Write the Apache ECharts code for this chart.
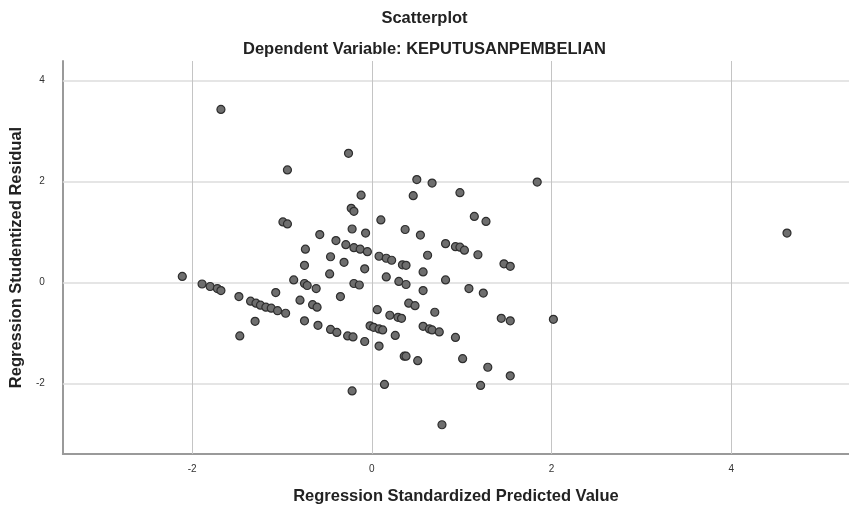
<!DOCTYPE html>
<html>
<head>
<meta charset="utf-8">
<script src="https://cdn.jsdelivr.net/npm/echarts@6/dist/echarts.min.js"></script>
<style>
html,body{margin:0;padding:0;background:#fff;}
#chart{width:849px;height:510px;}
</style>
</head>
<body>
<div id="chart"></div>
<script>
// Regression Standardized Predicted Value (x) vs Regression Studentized Residual (y)
const predicted = [
 -1.68,-0.94,-0.99,-0.94,-0.58,-0.74,-0.26,0.50,0.67,0.46,
 0.98,1.84,-0.12,-0.23,-0.20,0.10,1.14,1.27,-0.22,-0.07,
 0.37,0.54,-0.40,-0.29,-0.20,-0.13,-0.05,0.82,0.93,0.98,
 1.03,1.18,0.62,-0.46,-0.31,-0.75,-0.08,-0.47,-0.87,-0.75,
 -0.72,-0.62,-0.20,-0.14,-2.11,-1.89,-1.80,-1.72,-1.68,-1.48,
 -1.07,-0.35,0.08,0.16,0.22,0.34,0.38,1.47,1.54,0.16,
 0.57,0.30,0.38,0.82,0.57,1.08,1.24,-0.80,-0.66,-0.61,
 0.06,0.41,0.48,0.20,0.29,0.33,0.70,1.44,1.54,2.02,
 -0.75,-0.60,-0.46,-0.39,-0.27,-0.21,-0.08,-0.02,0.02,0.08,
 0.12,0.08,0.26,0.57,0.64,0.67,0.75,0.93,0.36,0.38,
 0.51,1.01,1.29,1.54,0.14,1.21,-0.22,0.78,-1.35,-1.29,
 -1.24,-1.18,-1.12,-1.05,-0.96,-1.30,-1.47,4.62
];
const residual = [
 3.43,2.23,1.20,1.16,0.95,0.66,2.56,2.04,1.97,1.72,
 1.78,1.99,1.73,1.47,1.41,1.24,1.31,1.21,1.06,0.98,
 1.05,0.94,0.83,0.75,0.69,0.66,0.61,0.77,0.71,0.70,
 0.64,0.55,0.54,0.51,0.40,0.34,0.27,0.17,0.05,-0.02,
 -0.06,-0.12,-0.02,-0.05,0.12,-0.03,-0.08,-0.12,-0.16,-0.28,
 -0.20,-0.28,0.52,0.48,0.44,0.35,0.34,0.37,0.32,0.11,
 0.21,0.02,-0.04,0.05,-0.16,-0.12,-0.21,-0.35,-0.44,-0.49,
 -0.54,-0.41,-0.46,-0.65,-0.69,-0.71,-0.59,-0.71,-0.76,-0.73,
 -0.76,-0.85,-0.93,-0.99,-1.06,-1.08,-1.17,-0.86,-0.89,-0.92,
 -0.94,-1.26,-1.05,-0.87,-0.92,-0.94,-0.98,-1.09,-1.46,-1.46,
 -1.55,-1.51,-1.68,-1.85,-2.02,-2.04,-2.15,-2.82,-0.37,-0.41,
 -0.45,-0.49,-0.51,-0.56,-0.61,-0.77,-1.06,0.98
];
const xTicks = [-2, 0, 2, 4];
const yTicks = [-2, 0, 2, 4];
const xRange = [-3.44, 5.31];
const yRange = [-3.40, 4.39];

const points = predicted.map((x, i) => [x, residual[i]]);

const chart = echarts.init(document.getElementById('chart'), null, {renderer: 'canvas'});
const fontFam = '"Liberation Sans", Arial, sans-serif';
chart.setOption({
  animation: false,
  backgroundColor: '#ffffff',
  title: [
    {text: 'Scatterplot', left: 'center', top: 5,
     textStyle: {fontFamily: fontFam, fontSize: 16.5, fontWeight: 'bold', color: '#222'}},
    {text: 'Dependent Variable: KEPUTUSANPEMBELIAN', left: 'center', top: 36,
     textStyle: {fontFamily: fontFam, fontSize: 16.5, fontWeight: 'bold', color: '#222'}}
  ],
  grid: {left: 61, top: 61, right: 0, bottom: 54, containLabel: false},
  xAxis: {
    type: 'value', min: xRange[0], max: xRange[1],
    name: 'Regression Standardized Predicted Value',
    nameLocation: 'middle', nameGap: 34,
    nameTextStyle: {fontFamily: fontFam, fontSize: 16.5, fontWeight: 'bold', color: '#222'},
    axisLine: {show: true, onZero: false, lineStyle: {color: '#9a9a9a', width: 2}},
    axisTick: {show: false},
    splitLine: {show: false},
    axisLabel: {customValues: xTicks, fontFamily: fontFam, fontSize: 10, color: '#333', margin: 10,
                formatter: v => String(v)}
  },
  yAxis: {
    type: 'value', min: yRange[0], max: yRange[1],
    name: 'Regression Studentized Residual',
    nameLocation: 'middle', nameGap: 32, nameRotate: 90,
    nameTextStyle: {fontFamily: fontFam, fontSize: 16.5, fontWeight: 'bold', color: '#222'},
    axisLine: {show: true, onZero: false, lineStyle: {color: '#9a9a9a', width: 2}},
    axisTick: {show: false},
    splitLine: {show: false},
    axisLabel: {customValues: yTicks, fontFamily: fontFam, fontSize: 10, color: '#333', margin: 18,
                formatter: v => String(v)}
  },
  series: [
    {
      type: 'scatter',
      data: points,
      symbol: 'circle',
      symbolSize: 8,
      itemStyle: {color: '#6e6e6e', borderColor: '#2e2e2e', borderWidth: 1.2, opacity: 1},
      z: 5,
      markLine: {
        silent: true, symbol: 'none', animation: false,
        label: {show: false},
        data: [
          ...yTicks.map(v => ({yAxis: v, lineStyle: {color: '#dcdcdc', width: 1.5, type: 'solid'}})),
          ...xTicks.map(v => ({xAxis: v, lineStyle: {color: '#c4c4c4', width: 1, type: 'solid'}}))
        ],
        z: 1
      }
    }
  ]
});
</script>
</body>
</html>
